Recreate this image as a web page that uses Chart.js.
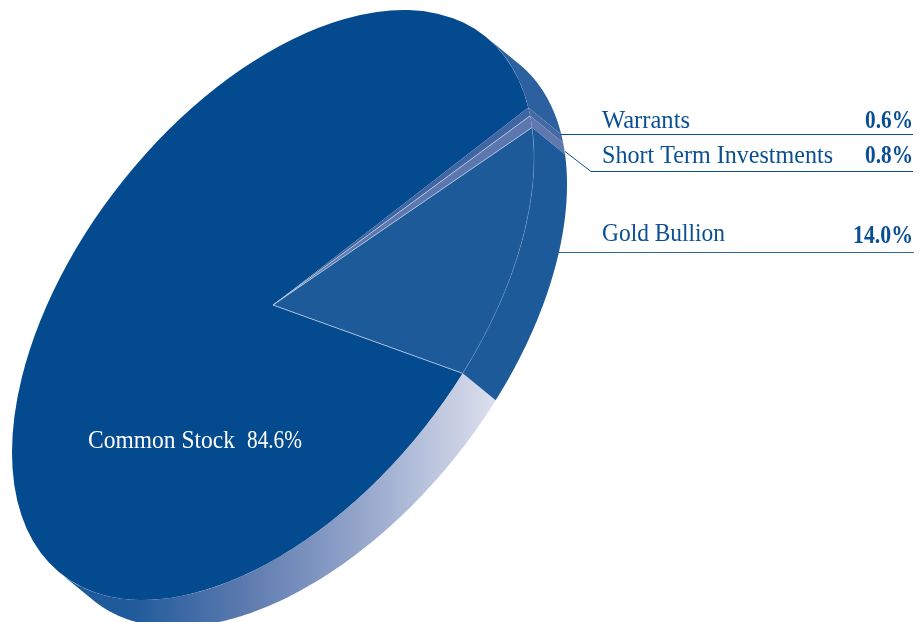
<!DOCTYPE html>
<html>
<head>
<meta charset="utf-8">
<title>Portfolio Allocation</title>
<style>
  html, body { margin: 0; padding: 0; background: #ffffff; }
  #wrap { width: 919px; height: 622px; overflow: hidden; }
</style>
<script src="https://cdn.jsdelivr.net/npm/chart.js@4/dist/chart.umd.min.js"></script>
</head>
<body>
<div id="wrap"><canvas id="pie" width="919" height="622"></canvas></div>
<script>
// Holdings, clockwise from the lower edge of the gold wedge
const categories = ['Common Stock', 'Warrants', 'Short Term Investments', 'Gold Bullion'];
const percentages = [84.6, 0.6, 0.8, 14.0];
const valueLabels = ['84.6%', '0.6%', '0.8%', '14.0%'];

// Slice fills for the top face and the visible rim
const faceColors = ['#034a8f', '#3f66a2', '#5b77ad', '#1d5a99'];
const rimColors = ['#2c609e', '#456aa3', '#5f79ae', '#1d5a99'];
const rimFadeStops = [[130, '#1f5a9b'], [250, '#5f7cb0'], [350, '#8fa1c8'], [420, '#b5c0da'], [490, '#d9ddec']];

// Tilted-disc projection of the pie
const tilt = { cx: 273, cy: 305, spanX: 261, spanY: 295, skew: -0.5, dropX: 33, dropY: 27 };
const startRotation = 133.4;

const ink = '#0a4f93';
const bodyFont = '26px "Liberation Serif", serif';
const boldFont = 'bold 26px "Liberation Serif", serif';

// Where each call-out sits: index into the data, text box, and leader path
const callouts = [
  { i: 1, x: 602, y: 128, w: 88, right: 913, yv: 128, vw: 48, path: [[560, 134], [913, 134]], color: ink },
  { i: 2, x: 602, y: 163, w: 231, right: 913, yv: 163, vw: 48, path: [[565, 151], [591, 171], [913, 171]], color: ink },
  { i: 3, x: 602, y: 241, w: 123, right: 913, yv: 243, vw: 60, path: [[558, 252], [914, 252]], color: '#2f6aa6' }
];

const A = tilt.spanX;
const C = tilt.spanY * tilt.skew;
const D = tilt.spanY * Math.sqrt(1 - tilt.skew * tilt.skew);
const project = (t) => [tilt.cx + A * Math.cos(t), tilt.cy + C * Math.cos(t) + D * Math.sin(t)];

// Direction on the disc that faces the extrusion; only that half of the rim shows
const faceU = tilt.dropX / A;
const faceV = (tilt.dropY - C * faceU) / D;
const rimMid = Math.atan2(faceV, faceU);

function rimPath(ctx, from, to) {
  const steps = Math.max(4, Math.ceil((to - from) / 0.01));
  ctx.beginPath();
  for (let k = 0; k <= steps; k++) {
    const p = project(from + (to - from) * k / steps);
    k ? ctx.lineTo(p[0], p[1]) : ctx.moveTo(p[0], p[1]);
  }
  for (let k = steps; k >= 0; k--) {
    const p = project(from + (to - from) * k / steps);
    ctx.lineTo(p[0] + tilt.dropX, p[1] + tilt.dropY);
  }
  ctx.closePath();
}

const tiltedPie = {
  id: 'tiltedPie',
  beforeDatasetsDraw(chart) {
    const ctx = chart.ctx;
    const arcs = chart.getDatasetMeta(0).data;
    const lo = rimMid - Math.PI / 2, hi = rimMid + Math.PI / 2;
    const x0 = rimFadeStops[0][0], x1 = rimFadeStops[rimFadeStops.length - 1][0];
    const fade = ctx.createLinearGradient(x0, 0, x1, 0);
    rimFadeStops.forEach((s) => fade.addColorStop((s[0] - x0) / (x1 - x0), s[1]));
    ctx.save();
    arcs.forEach((arc, idx) => {
      for (let turn = -1; turn <= 1; turn++) {
        const from = Math.max(arc.startAngle + turn * 2 * Math.PI, lo);
        const to = Math.min(arc.endAngle + turn * 2 * Math.PI, hi);
        if (to <= from) continue;
        rimPath(ctx, from, to);
        // The common stock rim fades only along its front run
        ctx.fillStyle = (idx === 0 && to > rimMid) ? fade : rimColors[idx];
        ctx.fill();
      }
    });
    ctx.restore();
  },
  beforeDatasetDraw(chart) {
    const ctx = chart.ctx;
    const arc = chart.getDatasetMeta(0).data[0];
    const R = arc.outerRadius;
    ctx.save();
    ctx.translate(tilt.cx, tilt.cy);
    ctx.transform(A / R, C / R, 0, D / R, 0, 0);
    ctx.translate(-arc.x, -arc.y);
  },
  afterDatasetDraw(chart) {
    chart.ctx.restore();
  },
  afterDatasetsDraw(chart) {
    const ctx = chart.ctx;
    const arcs = chart.getDatasetMeta(0).data;
    ctx.save();
    ctx.lineWidth = 1;

    // Hairlines along the slice edges
    ctx.strokeStyle = 'rgba(190,208,232,0.8)';
    [arcs[0].startAngle, arcs[2].startAngle, arcs[3].startAngle].forEach((t) => {
      const p = project(t);
      ctx.beginPath();
      ctx.moveTo(tilt.cx, tilt.cy);
      ctx.lineTo(p[0], p[1]);
      ctx.stroke();
    });

    // Faint highlight on the gold wedge's outer edge
    ctx.strokeStyle = 'rgba(130,165,210,0.35)';
    ctx.beginPath();
    for (let k = 0; k <= 60; k++) {
      const p = project(arcs[3].startAngle + (arcs[3].endAngle - arcs[3].startAngle) * k / 60);
      k ? ctx.lineTo(p[0], p[1]) : ctx.moveTo(p[0], p[1]);
    }
    ctx.stroke();

    // Call-outs on the right
    ctx.textBaseline = 'alphabetic';
    callouts.forEach((c) => {
      ctx.strokeStyle = c.color;
      ctx.beginPath();
      c.path.forEach((p, k) => (k ? ctx.lineTo(p[0], p[1] + 0.5) : ctx.moveTo(p[0], p[1] + 0.5)));
      ctx.stroke();
      ctx.fillStyle = ink;
      ctx.textAlign = 'left';
      ctx.font = bodyFont;
      ctx.fillText(categories[c.i], c.x, c.y, c.w);
      ctx.textAlign = 'right';
      ctx.font = boldFont;
      ctx.fillText(valueLabels[c.i], c.right, c.yv, c.vw);
    });

    // Label printed on the large slice
    ctx.fillStyle = '#ffffff';
    ctx.textAlign = 'left';
    ctx.font = bodyFont;
    ctx.fillText(categories[0], 88, 448, 147);
    ctx.fillText(valueLabels[0], 247, 448, 55);
    ctx.restore();
  }
};

new Chart(document.getElementById('pie'), {
  type: 'pie',
  data: {
    labels: categories,
    datasets: [{
      data: percentages,
      backgroundColor: faceColors,
      borderWidth: 0,
      hoverOffset: 0
    }]
  },
  options: {
    responsive: false,
    animation: false,
    rotation: startRotation,
    layout: { padding: 0 },
    events: [],
    plugins: { legend: { display: false }, tooltip: { enabled: false }, title: { display: false } }
  },
  plugins: [tiltedPie]
});
</script>
</body>
</html>
